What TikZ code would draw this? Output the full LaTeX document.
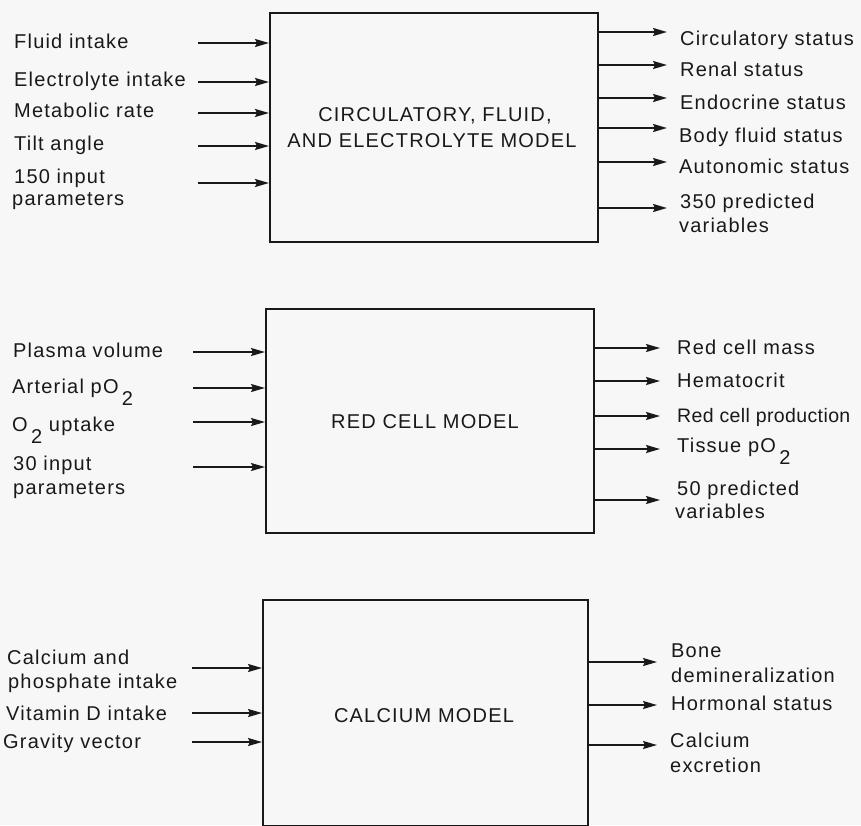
\documentclass[tikz,border=0pt]{standalone}
\usepackage{fontspec}
\setmainfont{Liberation Sans}[LetterSpace=6]
\newfontfamily\tightfont{Liberation Sans}[LetterSpace=2]
\usetikzlibrary{arrows.meta}
\definecolor{bg}{RGB}{247,247,247}
\definecolor{ink}{RGB}{25,25,25}
\newcommand{\subtwo}{\,\raisebox{-12pt}{2}}
\begin{document}
\begin{tikzpicture}[x=1pt,y=-1pt,
  font=\fontsize{20}{24}\selectfont,
  modelbox/.style={draw=ink, line width=1.7pt, inner sep=0pt, anchor=north west},
  lab/.style={anchor=base west, inner sep=0pt, text=ink},
  ttl/.style={anchor=base, inner sep=0pt, text=ink},
  arr/.style={draw=ink, line width=1.8pt, -{Stealth[length=14pt,width=8pt,inset=2pt]}}]
\fill[bg] (0,0) rectangle (861,825);
\useasboundingbox (0,0) rectangle (861,825);

% ---------- Box 1 ----------
\node[modelbox, minimum width=328pt, minimum height=229pt] (b1) at (269,12) {};
\node[ttl] (t1a) at (435,121) {CIRCULATORY, FLUID,};
\node[ttl] (t1b) at (432,147) {AND ELECTROLYTE MODEL};

\node[lab] (l11) at (14,48) {Fluid intake};
\node[lab] (l12) at (14,86) {Electrolyte intake};
\node[lab] (l13) at (14,117) {Metabolic rate};
\node[lab] (l14) at (14,150) {Tilt angle};
\node[lab] (l15) at (14,183) {150 input};
\node[lab] (l16) at (12,205) {parameters};
\foreach \y [count=\i] in {43,82,113,146,183} {
  \coordinate (i1\i) at (198,\y);
  \draw[arr] (i1\i) -- (i1\i -| b1.west);
}

\node[lab] (r11) at (680,45) {Circulatory status};
\node[lab] (r12) at (680,76) {Renal status};
\node[lab] (r13) at (680,109) {Endocrine status};
\node[lab] (r14) at (679,142) {Body fluid status};
\node[lab] (r15) at (679,173) {Autonomic status};
\node[lab] (r16) at (680,208) {350 predicted};
\node[lab] (r17) at (679,232) {variables};
\foreach \y [count=\i] in {32,65,98,128,162,208} {
  \coordinate (o1\i) at (667,\y);
  \draw[arr] (o1\i -| b1.east) -- (o1\i);
}

% ---------- Box 2 ----------
\node[modelbox, minimum width=328pt, minimum height=224pt] (b2) at (265,308) {};
\node[ttl] (t2) at (425,428) {RED CELL MODEL};

\node[lab] (l21) at (13,357) {Plasma volume};
\node[lab] (l22) at (12,393) {Arterial pO\subtwo};
\node[lab] (l23) at (12,431) {O\subtwo\ uptake};
\node[lab] (l24) at (13,470) {30 input};
\node[lab] (l25) at (13,494) {parameters};
\foreach \y [count=\i] in {352,388,422,467} {
  \coordinate (i2\i) at (193,\y);
  \draw[arr] (i2\i) -- (i2\i -| b2.west);
}

\node[lab] (r21) at (677,354) {Red cell mass};
\node[lab] (r22) at (677,387) {Hematocrit};
\node[lab, font=\tightfont\fontsize{19.5}{24}\selectfont] (r23) at (677,422) {Red cell production};
\node[lab] (r24) at (677,452) {Tissue pO\subtwo};
\node[lab] (r25) at (677,495) {50 predicted};
\node[lab] (r26) at (675,518) {variables};
\foreach \y [count=\i] in {348,381,416,449,500} {
  \coordinate (o2\i) at (660,\y);
  \draw[arr] (o2\i -| b2.east) -- (o2\i);
}

% ---------- Box 3 ----------
\node[modelbox, minimum width=325pt, minimum height=226pt] (b3) at (262,599) {};
\node[ttl] (t3) at (424,722) {CALCIUM MODEL};

\node[lab] (l31) at (7,664) {Calcium and};
\node[lab] (l32) at (8,688) {phosphate intake};
\node[lab] (l33) at (6,720) {Vitamin D intake};
\node[lab] (l34) at (3,748) {Gravity vector};
\foreach \y [count=\i] in {668,713,742} {
  \coordinate (i3\i) at (192,\y);
  \draw[arr] (i3\i) -- (i3\i -| b3.west);
}

\node[lab] (r31) at (671,657) {Bone};
\node[lab] (r32) at (671,682) {demineralization};
\node[lab] (r33) at (671,710) {Hormonal status};
\node[lab] (r34) at (670,747) {Calcium};
\node[lab] (r35) at (670,772) {excretion};
\foreach \y [count=\i] in {662,705,745} {
  \coordinate (o3\i) at (657,\y);
  \draw[arr] (o3\i -| b3.east) -- (o3\i);
}
\end{tikzpicture}
\end{document}
